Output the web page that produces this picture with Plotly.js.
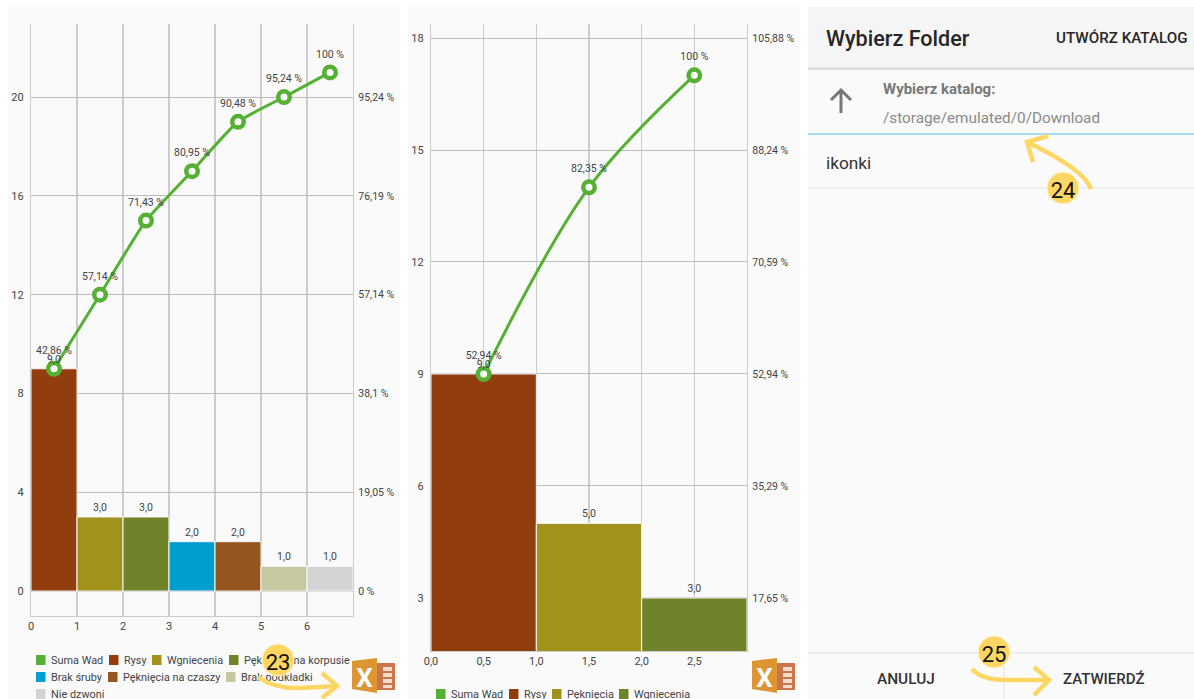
<!DOCTYPE html>
<html><head><meta charset="utf-8">
<script src="https://cdn.plot.ly/plotly-3.0.1.min.js"></script>
<style>html,body{margin:0;padding:0;background:#fff;overflow:hidden}</style>
</head><body><div id="c" style="width:1194px;height:699px"></div>
<script>
// ---- data: left chart
const catsA = ['Rysy','Wgniecenia','Pęknięcia na korpusie','Brak śruby','Pęknięcia na czaszy','Brak podkładki','Nie dzwoni'];
const valsA = [9,3,3,2,2,1,1];
const barTextA = ['9,0','3,0','3,0','2,0','2,0','1,0','1,0'];
const colorsA = ['#913d0e','#a0921c','#6f832b','#009ecf','#96561f','#c5c8a0','#d4d4d4'];
const xA = [0.5,1.5,2.5,3.5,4.5,5.5,6.5];
const cumA = [9,12,15,17,19,20,21];
const pctA = ['42,86 %','57,14 %','71,43 %','80,95 %','90,48 %','95,24 %','100 %'];
const yTicksA = [0,4,8,12,16,20];
const rightTextA = ['0 %','19,05 %','38,1 %','57,14 %','76,19 %','95,24 %'];
const xTicksA = [0,1,2,3,4,5,6,7];
const xTextA = ['0','1','2','3','4','5','6',''];
// ---- data: middle chart
const catsB = ['Rysy','Pęknięcia','Wgniecenia'];
const valsB = [9,5,3];
const barTextB = ['9,0','5,0','3,0'];
const colorsB = ['#913d0e','#a0921c','#6f832b'];
const xB = [0.5,1.5,2.5];
const cumB = [9,14,17];
const pctB = ['52,94 %','82,35 %','100 %'];
const yTicksB = [3,6,9,12,15,18];
const rightTextB = ['17,65 %','35,29 %','52,94 %','70,59 %','88,24 %','105,88 %'];
const xTicksB = [0,0.5,1,1.5,2,2.5,3];
const xTextB = ['0,0','0,5','1,0','1,5','2,0','2,5',''];
const sumName = 'Suma Wad';
const sumColor = '#55b033';

// ---- pixel helpers for the page furniture
const W=1194,H=699;
const fx=p=>p/W, fy=p=>1-p/H;
const pathPx=s=>s.replace(/(-?[\d.]+) (-?[\d.]+)/g,(m,a,b)=>fx(+a)+' '+fy(+b));
const shapes=[],ann=[];
const rect=(x0,y0,x1,y1,fill,layer)=>shapes.push({type:'rect',xref:'paper',yref:'paper',x0:fx(x0),x1:fx(x1),y0:fy(y1),y1:fy(y0),fillcolor:fill,line:{width:0},layer:layer||'below'});
const hline=(x0,x1,y,c,w)=>shapes.push({type:'line',xref:'paper',yref:'paper',x0:fx(x0),x1:fx(x1),y0:fy(y),y1:fy(y),line:{color:c,width:w||1},layer:'below'});
const txt=(x,y,t,size,color,anchor,weight)=>ann.push({xref:'paper',yref:'paper',x:fx(x),y:fy(y),text:t,showarrow:false,xanchor:anchor||'left',yanchor:'middle',borderpad:0,font:{family:'Roboto',size,color,weight:weight||400}});
const stroke=(d,c,w)=>shapes.push({type:'path',xref:'paper',yref:'paper',path:pathPx(d),line:{color:c,width:w},layer:'above'});
const poly=(d,f)=>shapes.push({type:'path',xref:'paper',yref:'paper',path:pathPx(d),fillcolor:f,line:{width:0},layer:'above'});

// panels
rect(8,7,400,699,'#fafafa');
rect(408,7,800,699,'#fafafa');
rect(808,7,1194,699,'#fafafa');
rect(808,7,1194,68,'#f5f5f5');
hline(808,1194,68.5,'#cfcfcf',1.5);
hline(808,1194,70,'#e8e8e8',1.5);
hline(808,1194,134,'#8ad4f2',1.5);
hline(808,1194,188,'#e2e2e2',1);
hline(808,1194,653,'#e2e2e2',1);
shapes.push({type:'line',xref:'paper',yref:'paper',x0:fx(1004),x1:fx(1004),y0:fy(653),y1:fy(699),line:{color:'#e2e2e2',width:1},layer:'below'});

// file-picker texts
txt(825,38.5,'Wybierz Folder',21.6,'#262626','left',500);
txt(1189,38,'UTWÓRZ KATALOG',15.2,'#262626','right',500);
txt(882,89,'Wybierz katalog:',15,'#777777','left',700);
txt(882,117.5,'/storage/emulated/0/Download',15.3,'#8a8a8a','left',400);
txt(825,163,'ikonki',17.3,'#333333','left',400);
txt(906,679,'ANULUJ',15.4,'#333333','center',500);
txt(1103,679,'ZATWIERDŹ',15,'#333333','center',500);
stroke('M 841 113 L 841 91 M 831 100 L 841 90 L 851 100','#777777',3);

// legends (swatch + label, drawn as shape labels so the yellow marks can cover them)
function legend(items){
  items.forEach(([sx,y,col,name])=>{
    rect(sx,y-5,sx+9.5,y+5,col,'above');
    shapes.push({type:'rect',xref:'paper',yref:'paper',x0:fx(sx+9),x1:fx(sx+150),y0:fy(y+8),y1:fy(y-8),
      fillcolor:'rgba(0,0,0,0)',line:{width:0},layer:'above',
      label:{text:name,textposition:'middle left',font:{family:'Roboto',size:10.9,color:'#444444'}}});
  });
}
legend([[36,660,sumColor,sumName],[109,660,colorsA[0],catsA[0]],[152,660,colorsA[1],catsA[1]],[229,660,colorsA[2],catsA[2]],
        [36,677,colorsA[3],catsA[3]],[108,677,colorsA[4],catsA[4]],[226,677,colorsA[5],catsA[5]],
        [36,694,colorsA[6],catsA[6]]]);
legend([[436,694,sumColor,sumName],[509,694,colorsB[0],catsB[0]],[552,694,colorsB[1],catsB[1]],[619,694,colorsB[2],catsB[2]]]);

// Excel icons
[0,400].forEach(o=>{
  const p=(a)=>a.map(([x,y],i)=>(i?'L ':'M ')+(x+o)+' '+y).join(' ')+' Z';
  poly(p([[377,663],[395,663],[395,690],[377,690]]),'#c9764a');
  poly(p([[383,667],[392,667],[392,671],[383,671]]),'#f3dccb');
  poly(p([[383,673],[392,673],[392,677],[383,677]]),'#f3dccb');
  poly(p([[383,679],[392,679],[392,683],[383,683]]),'#f3dccb');
  poly(p([[383,685],[392,685],[392,688],[383,688]]),'#f3dccb');
  poly(p([[352,661],[377,658],[377,693],[352,689]]),'#dd9433');
  shapes.push({type:'rect',xref:'paper',yref:'paper',x0:fx(o+352),x1:fx(o+377),y0:fy(692),y1:fy(660),fillcolor:'rgba(0,0,0,0)',line:{width:0},layer:'above',
    label:{text:'X',textposition:'middle center',font:{family:'Roboto',size:26,color:'#ffffff',weight:700}}});
});

// yellow call-outs
const Y='#fdd663';
stroke('M 258 677 Q 275 689 300 688 L 337 686 M 322 673 L 337 686 L 322 698',Y,4.5);
stroke('M 1091 189 Q 1085 170 1027 142 M 1048 136 L 1027 142 L 1033 162',Y,4.5);
stroke('M 972 669 Q 982 680 1005 680 L 1049 680 M 1034 667 L 1049 680 L 1034 695',Y,4.5);
[[278,660,'23'],[1063,188,'24'],[994,652,'25']].forEach(([x,y,t])=>{
  shapes.push({type:'circle',xref:'paper',yref:'paper',x0:fx(x-16),x1:fx(x+16),y0:fy(y+16),y1:fy(y-16),fillcolor:Y,line:{color:'#fff4c8',width:1},layer:'above',
    label:{text:t,textposition:'middle center',font:{family:'Roboto',size:22,color:'#111111'}}});
});

// ---- traces
const tf=(s)=>({family:'Roboto',size:s,color:'#444444'});
const lineTrace=(x,y,xa,ya,sm)=>({type:'scatter',mode:'lines+markers',x,y,
  xaxis:xa,yaxis:ya,cliponaxis:false,showlegend:false,hoverinfo:'skip',
  line:{color:sumColor,width:3,shape:'spline',smoothing:sm},
  marker:{size:11.5,color:'#ffffff',line:{color:sumColor,width:4.5}}});
const pctTrace=(x,y,t,xa,ya)=>({type:'scatter',mode:'markers+text',x,y,text:t,textposition:'top center',textfont:tf(10.5),
  xaxis:xa,yaxis:ya,cliponaxis:false,showlegend:false,hoverinfo:'skip',
  marker:{size:18,color:'rgba(0,0,0,0)',line:{width:0}}});
const barTrace=(x,y,c,xa,ya)=>({type:'bar',x,y,width:1,xaxis:xa,yaxis:ya,showlegend:false,hoverinfo:'skip',marker:{color:c,line:{color:'#fafafa',width:1}}});
const valTrace=(x,y,t,xa,ya)=>({type:'scatter',mode:'markers+text',x,y,text:t,textposition:'top center',textfont:tf(10.5),xaxis:xa,yaxis:ya,cliponaxis:false,showlegend:false,hoverinfo:'skip',
  marker:{size:4,color:'rgba(0,0,0,0)',line:{width:0}}});
const helper=(x,y,xa,ya)=>({type:'scatter',mode:'none',x,y,xaxis:xa,yaxis:ya,showlegend:false,hoverinfo:'skip'});
const data=[
  barTrace(xA,valsA,colorsA,'x','y'),
  lineTrace(xA,cumA,'x','y',0.5),
  pctTrace(xA,cumA,pctA,'x','y'),
  valTrace(xA,valsA,barTextA,'x','y'),
  helper(xA,cumA,'x','y2'),
  barTrace(xB,valsB,colorsB,'x2','y3'),
  lineTrace(xB,cumB,'x2','y3',1),
  pctTrace(xB,cumB,pctB,'x2','y3'),
  valTrace(xB,valsB,barTextB,'x2','y3'),
  helper(xB,cumB,'x2','y4')
];

const grid='#cccccc';
const rangeA=[-1.01,22.96], rangeB=[1.58,18.375];
const xCommon={showgrid:true,gridcolor:grid,gridwidth:1.2,showline:true,linecolor:grid,linewidth:1.2,zeroline:false,ticks:'',tickmode:'array',tickfont:tf(11),fixedrange:true};
const yCommon={showgrid:true,gridcolor:'#bdbdbd',gridwidth:1,showline:true,linecolor:grid,linewidth:1.2,zeroline:false,ticks:'outside',ticklen:4,tickcolor:'#fafafa',tickmode:'array',tickfont:tf(11),fixedrange:true};
const y2Common={showgrid:false,zeroline:false,showline:true,linecolor:grid,linewidth:1.2,ticks:'outside',ticklen:2,tickcolor:'#fafafa',tickmode:'array',tickfont:tf(10.5),fixedrange:true,side:'right'};

const layout={
  width:W,height:H,margin:{l:0,r:0,t:0,b:0},paper_bgcolor:'#ffffff',plot_bgcolor:'rgba(0,0,0,0)',
  showlegend:false,barmode:'overlay',bargap:0,shapes,annotations:ann,
  xaxis:{...xCommon,domain:[fx(31),fx(353)],range:[0,7],tickvals:xTicksA,ticktext:xTextA,anchor:'y'},
  yaxis:{...yCommon,domain:[fy(616),fy(24)],range:rangeA,tickvals:yTicksA,ticktext:yTicksA.map(String),anchor:'x'},
  yaxis2:{...y2Common,domain:[fy(616),fy(24)],range:rangeA,tickvals:yTicksA,ticktext:rightTextA,anchor:'x',overlaying:'y'},
  xaxis2:{...xCommon,domain:[fx(431),fx(747)],range:[0,3],tickvals:xTicksB,ticktext:xTextB,anchor:'y3'},
  yaxis3:{...yCommon,domain:[fy(651),fy(24)],range:rangeB,tickvals:yTicksB,ticktext:yTicksB.map(String),anchor:'x2'},
  yaxis4:{...y2Common,domain:[fy(651),fy(24)],range:rangeB,tickvals:yTicksB,ticktext:rightTextB,anchor:'x2',overlaying:'y3'}
};
Plotly.newPlot('c',data,layout,{displayModeBar:false,staticPlot:true});
</script></body></html>
